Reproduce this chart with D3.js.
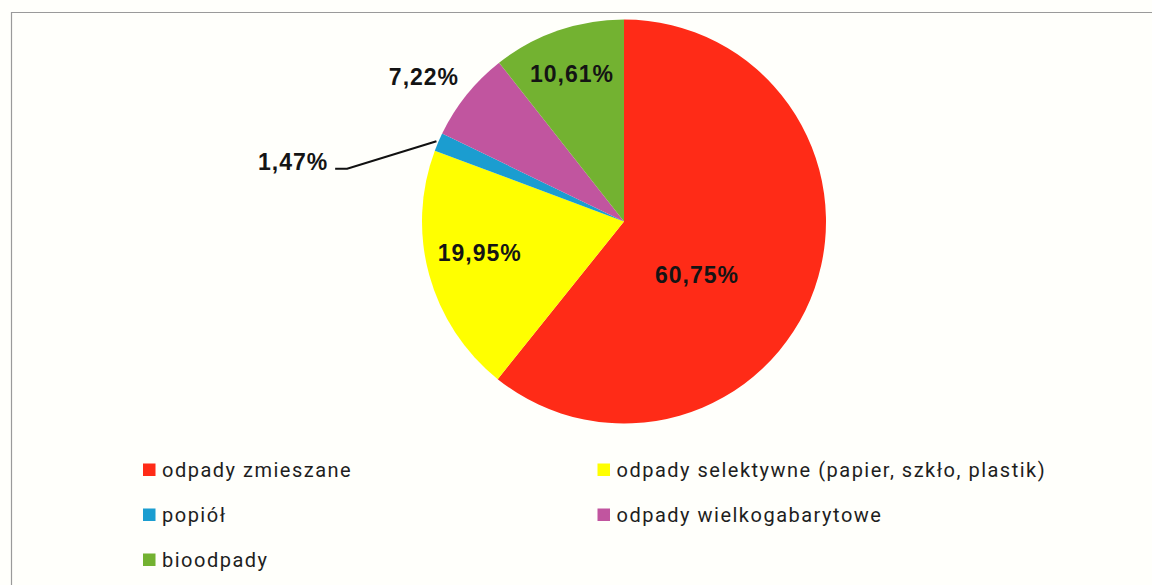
<!DOCTYPE html>
<html>
<head>
<meta charset="utf-8">
<script src="https://cdn.jsdelivr.net/npm/d3@7"></script>
<style>
  html, body { margin: 0; padding: 0; background: #fffffb; }
  svg { display: block; }
</style>
</head>
<body>
<svg id="chart" width="1152" height="585"></svg>
<script>
// data
const categories = ["odpady zmieszane", "odpady selektywne (papier, szkło, plastik)", "popiół", "odpady wielkogabarytowe", "bioodpady"];
const shares = [60.75, 19.95, 1.47, 7.22, 10.61];
const colors = ["#ff2b17", "#ffff00", "#1b9dd0", "#c1559f", "#73b231"];
const valueLabels = ["60,75%", "19,95%", "1,47%", "7,22%", "10,61%"];

const width = 1152, height = 585;
const cx = 624, cy = 221.5, radius = 202;

const svg = d3.select("#chart");

// frame (only top and left edges visible in the scan)
svg.append("path")
    .attr("d", "M11.5,585 L11.5,12.5 L1152,12.5")
    .attr("fill", "none")
    .attr("stroke", "#9a9a9a")
    .attr("stroke-width", 1.2);

const data = categories.map((c, i) => ({ name: c, value: shares[i], color: colors[i], label: valueLabels[i] }));

const pie = d3.pie().sort(null).value(d => d.value);
const arc = d3.arc().innerRadius(0).outerRadius(radius);
const arcs = pie(data);

const g = svg.append("g").attr("transform", `translate(${cx},${cy})`);

g.selectAll(".slice")
    .data(arcs)
    .enter()
    .append("path")
    .attr("class", "slice")
    .attr("d", arc)
    .attr("fill", d => d.data.color);

// label anchor: distance from centre (fraction of radius) + nudge, in slice order
const labelDist = [0.42, 0.7, 1.62, 1.22, 0.75];
const labelNudge = [[-7, 25.5], [-8, -6], [-30, 69], [-8, 10], [-2.5, -4.5]];
const labelPos = arcs.map((a, i) => {
    const r = radius * labelDist[i];
    const [x, y] = d3.arc().innerRadius(r).outerRadius(r).centroid(a);
    return [x + labelNudge[i][0], y + labelNudge[i][1]];
});

g.selectAll(".val")
    .data(arcs)
    .enter()
    .append("text")
    .attr("class", "val")
    .attr("x", (d, i) => labelPos[i][0])
    .attr("y", (d, i) => labelPos[i][1])
    .attr("text-anchor", "middle")
    .attr("dy", "0.35em")
    .attr("font-family", "Liberation Sans, Arial, sans-serif")
    .attr("font-weight", "bold")
    .attr("font-size", "23px")
    .attr("letter-spacing", "1px")
    .attr("fill", "#141414")
    .text(d => d.data.label);

// leader line for the small blue slice
const blue = arcs[2];
const midAngle = (blue.startAngle + blue.endAngle) / 2;
const edge = [Math.sin(midAngle) * (radius + 2), -Math.cos(midAngle) * (radius + 2)];
const lx = labelPos[2][0] + 42, ly = labelPos[2][1] + 7;
g.append("polyline")
    .attr("points", [[lx, ly], [lx + 12, ly], edge].map(p => p.join(",")).join(" "))
    .attr("fill", "none")
    .attr("stroke", "#111")
    .attr("stroke-width", 2.2);

// legend
const legendCols = [143, 597.5];
const legendRows = [477, 522, 567];
const legendSlot = [[0, 0], [1, 0], [0, 1], [1, 1], [0, 2]];
const items = svg.append("g").selectAll(".item")
    .data(data)
    .enter()
    .append("g")
    .attr("class", "item")
    .attr("transform", (d, i) => `translate(${legendCols[legendSlot[i][0]]},${legendRows[legendSlot[i][1]]})`);

items.append("rect")
    .attr("x", 0)
    .attr("y", -13.5)
    .attr("width", 12.5)
    .attr("height", 12.5)
    .attr("fill", d => d.color);

items.append("text")
    .attr("x", 19)
    .attr("y", 0)
    .attr("font-family", "Roboto, Liberation Sans, sans-serif")
    .attr("font-size", "20px")
    .attr("letter-spacing", "1.5px")
    .attr("fill", "#1e1e1e")
    .text(d => d.name);
</script>
</body>
</html>
